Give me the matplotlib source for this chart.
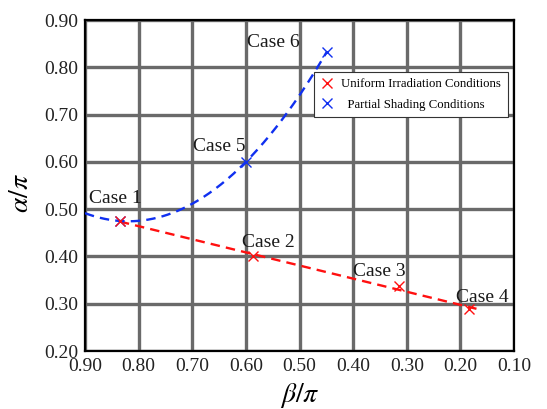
import numpy as np
import matplotlib
matplotlib.use("Agg")
import matplotlib.pyplot as plt

plt.rcParams['font.family'] = ['Liberation Serif', 'DejaVu Serif']
plt.rcParams['mathtext.fontset'] = 'stix'

# Operating points (beta/pi, alpha/pi)
uniform_cases = ["Case 1", "Case 2", "Case 3", "Case 4"]
uniform_beta = [0.835, 0.587, 0.314, 0.184]
uniform_alpha = [0.475, 0.400, 0.338, 0.288]

shading_cases = ["Case 1", "Case 5", "Case 6"]
shading_beta = [0.835, 0.600, 0.449]
shading_alpha = [0.475, 0.600, 0.833]

x_ticks = [0.90, 0.80, 0.70, 0.60, 0.50, 0.40, 0.30, 0.20, 0.10]
y_ticks = [0.20, 0.30, 0.40, 0.50, 0.60, 0.70, 0.80, 0.90]

RED = '#ff1010'
BLUE = '#1030f0'

fig = plt.figure(figsize=(5.47, 4.09), dpi=100)
ax = fig.add_axes([0.1554, 0.1418, 0.7843, 0.8093])

# Trend lines fitted through each group of cases
lin = np.polyfit(uniform_beta, uniform_alpha, 1)
xr = np.linspace(uniform_beta[0], 0.17, 100)
ax.plot(xr, np.polyval(lin, xr), color=RED, lw=1.7, ls=(0, (4, 2.6)), zorder=3)

quad = np.polyfit(shading_beta, shading_alpha, 2)
xb = np.linspace(0.90, shading_beta[-1], 200)
ax.plot(xb, np.polyval(quad, xb), color=BLUE, lw=1.7, ls=(0, (4, 2.6)), zorder=3)

ax.plot(shading_beta, shading_alpha, ls='none', marker='x', color=BLUE,
        ms=7, mew=1.0, zorder=4, label='  Partial Shading Conditions')
ax.plot(uniform_beta, uniform_alpha, ls='none', marker='x', color=RED,
        ms=7, mew=1.0, zorder=5, label='Uniform Irradiation Conditions')

# Case labels
offsets = {"Case 1": (-4, 22), "Case 2": (16, 14), "Case 3": (-20, 14),
           "Case 4": (13, 12), "Case 5": (-27, 15), "Case 6": (-54, 9)}
labelled = {}
for name, b, a in zip(uniform_cases, uniform_beta, uniform_alpha):
    labelled[name] = (b, a)
for name, b, a in zip(shading_cases, shading_beta, shading_alpha):
    labelled.setdefault(name, (b, a))
for name, (b, a) in labelled.items():
    ax.annotate(name, (b, a), xytext=offsets[name], textcoords='offset pixels',
                ha='center', va='center', fontsize=14, color='#1a1a1a', zorder=6)

ax.set_xlim(0.90, 0.10)
ax.set_ylim(0.20, 0.90)
ax.set_xticks(x_ticks)
ax.set_yticks(y_ticks)
ax.set_xticklabels([f"{v:.2f}" for v in x_ticks])
ax.set_yticklabels([f"{v:.2f}" for v in y_ticks])
ax.tick_params(length=0, labelsize=14, pad=5, colors='#222222')
ax.grid(True, color='#6a6a6a', lw=2.4, zorder=1)
ax.set_axisbelow(True)
for s in ax.spines.values():
    s.set_linewidth(1.6)
    s.set_color('black')

ax.set_xlabel(r'$\beta/\pi$', fontsize=20, labelpad=4)
ax.set_ylabel(r'$\alpha/\pi$', fontsize=20)
ax.yaxis.set_label_coords(-0.12, 0.477)

handles, labels = ax.get_legend_handles_labels()
leg = ax.legend(handles[::-1], labels[::-1], loc='upper right',
                bbox_to_anchor=(0.985, 0.844), borderaxespad=0,
                fontsize=9.2, fancybox=False, framealpha=1,
                edgecolor='#333333', handlelength=1.0, handletextpad=0.6,
                borderpad=0.5, labelspacing=0.7)
leg.get_frame().set_linewidth(0.8)

fig.savefig('out.png', dpi=100)
